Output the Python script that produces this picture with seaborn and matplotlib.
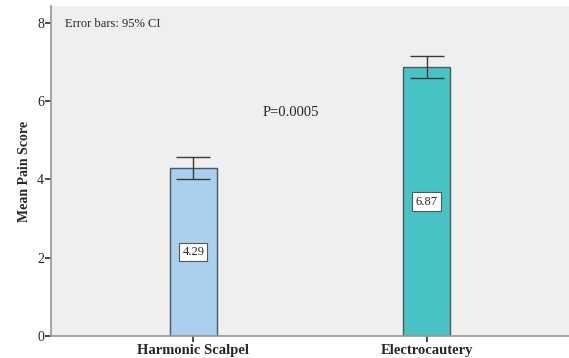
import matplotlib
matplotlib.use("Agg")
import matplotlib.pyplot as plt
import seaborn as sns
import pandas as pd

# data
groups = ["Harmonic Scalpel", "Electrocautery"]
mean_pain = [4.29, 6.87]
ci_low = [4.02, 6.60]
ci_high = [4.57, 7.16]
bar_colors = ["#abcfee", "#48c2c4"]

sns.set_theme(style="ticks")
plt.rcParams["font.family"] = ["Liberation Serif", "DejaVu Serif"]

df = pd.DataFrame({"Group": groups, "Mean": mean_pain})

fig = plt.figure(figsize=(5.69, 3.58), dpi=100)
ax = fig.add_axes([0.0896, 0.0615, 0.9104, 0.9215])
ax.set_facecolor("#efefef")

sns.barplot(data=df, x="Group", y="Mean", hue="Group", palette=bar_colors,
            saturation=1, legend=False, errorbar=None, width=0.2,
            edgecolor="#4a5a60", linewidth=1.0, ax=ax)

# 95% CI error bars
yerr = [[m - lo for m, lo in zip(mean_pain, ci_low)],
        [hi - m for m, hi in zip(mean_pain, ci_high)]]
ax.errorbar(range(len(groups)), mean_pain, yerr=yerr, fmt="none",
            ecolor="#3a3a3a", elinewidth=1.0, capsize=12, capthick=1.0, zorder=5)

# value labels in the middle of the bars
for i, m in enumerate(mean_pain):
    ax.text(i, m / 2, f"{m:.2f}", ha="center", va="center", fontsize=9,
            bbox=dict(boxstyle="square,pad=0.25", facecolor="white",
                      edgecolor="#555555", linewidth=0.8), zorder=6)

ax.text(0.027, 0.965, "Error bars: 95% CI", transform=ax.transAxes,
        fontsize=9, va="top", ha="left")
ax.text(0.42, 5.7, "P=0.0005", fontsize=10.5, ha="center", va="center")

ax.set_xlim(-0.61, 1.61)
ax.set_ylim(0, 8.43)
ax.set_yticks([0, 2, 4, 6, 8])
ax.set_xlabel("")
ax.set_ylabel("Mean Pain Score", fontsize=10, fontweight="bold")
ax.tick_params(axis="y", labelsize=10, length=4, color="#333333", pad=1)
ax.tick_params(axis="x", labelsize=10.5, length=4, color="#333333", pad=2)
for lbl in ax.get_xticklabels():
    lbl.set_fontweight("bold")

sns.despine(ax=ax, top=True, right=True)
ax.spines["left"].set_color("#999999")
ax.spines["bottom"].set_color("#999999")

fig.savefig("out.png", dpi=100)
